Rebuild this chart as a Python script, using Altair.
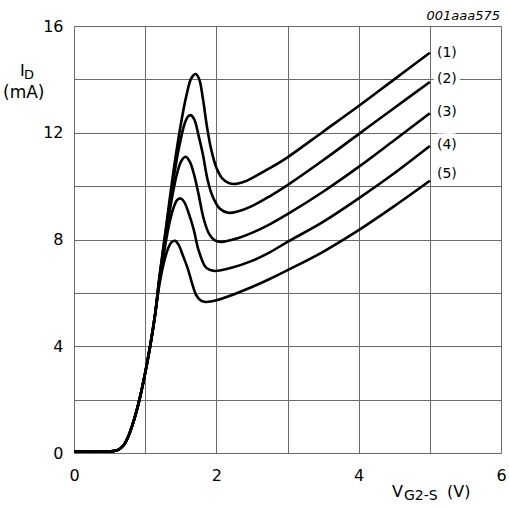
import altair as alt
import pandas as pd

# shared rising part (all curves coincide)
base_x = [0.0, 0.3, 0.55, 0.62, 0.7, 0.76, 0.85, 0.92, 1.0, 1.07, 1.14]
base_y = [0.05, 0.05, 0.07, 0.12, 0.3, 0.6, 1.3, 2.0, 3.0, 4.0, 5.2]

c1_x = [1.2, 1.3, 1.4, 1.5, 1.58, 1.65, 1.71, 1.76, 1.81, 1.87, 1.93, 2.0, 2.08, 2.17, 2.26, 2.4, 2.5, 2.75, 3.0, 3.5, 4.0, 4.5, 5.0]
c1_y = [6.6, 8.6, 10.6, 12.3, 13.4, 14.05, 14.2, 14.0, 13.3, 12.2, 11.35, 10.7, 10.3, 10.12, 10.08, 10.17, 10.3, 10.67, 11.08, 12.04, 13.0, 14.0, 15.0]

c2_x = [1.2, 1.3, 1.4, 1.48, 1.55, 1.6, 1.64, 1.69, 1.75, 1.81, 1.88, 1.95, 2.05, 2.17, 2.3, 2.5, 2.75, 3.0, 3.5, 4.0, 4.5, 5.0]
c2_y = [6.55, 8.5, 10.3, 11.5, 12.3, 12.6, 12.66, 12.5, 11.9, 11.2, 10.2, 9.6, 9.15, 9.0, 9.05, 9.25, 9.62, 10.04, 10.97, 11.95, 12.93, 13.9]

c3_x = [1.2, 1.3, 1.38, 1.45, 1.51, 1.57, 1.63, 1.69, 1.75, 1.82, 1.9, 1.98, 2.07, 2.3, 2.5, 2.75, 3.0, 3.5, 4.0, 4.5, 5.0]
c3_y = [6.5, 8.3, 9.6, 10.5, 10.95, 11.1, 10.9, 10.4, 9.7, 8.8, 8.2, 7.97, 7.91, 8.05, 8.25, 8.57, 8.95, 9.79, 10.72, 11.72, 12.73]

c4_x = [1.2, 1.27, 1.34, 1.4, 1.45, 1.5, 1.55, 1.61, 1.68, 1.75, 1.84, 1.9, 1.98, 2.2, 2.5, 2.75, 3.0, 3.5, 4.0, 4.5, 5.0]
c4_y = [6.45, 7.6, 8.6, 9.2, 9.48, 9.54, 9.4, 9.0, 8.4, 7.6, 7.0, 6.87, 6.82, 6.93, 7.2, 7.52, 7.91, 8.66, 9.54, 10.48, 11.5]

c5_x = [1.2, 1.26, 1.32, 1.37, 1.42, 1.47, 1.53, 1.6, 1.66, 1.72, 1.79, 1.85, 2.0, 2.25, 2.5, 2.75, 3.0, 3.5, 4.0, 4.5, 5.0]
c5_y = [6.3, 7.1, 7.65, 7.9, 7.95, 7.8, 7.4, 6.9, 6.35, 5.9, 5.7, 5.66, 5.72, 5.95, 6.22, 6.52, 6.85, 7.54, 8.35, 9.25, 10.2]

curve_names = ["(1)", "(2)", "(3)", "(4)", "(5)"]
label_x = [5.1, 5.1, 5.1, 5.1, 5.1]
label_y = [15.0, 14.0, 12.78, 11.53, 10.45]

x_grid = [0, 1, 2, 3, 4, 5, 6]
y_grid = [0, 2, 4, 6, 8, 10, 12, 14, 16]

rows = []
for name, xs, ys in zip(curve_names, [c1_x, c2_x, c3_x, c4_x, c5_x], [c1_y, c2_y, c3_y, c4_y, c5_y]):
    for xv, yv in zip(base_x + xs, base_y + ys):
        rows.append({"curve": name, "v": xv, "i": yv})
df = pd.DataFrame(rows)
lab = pd.DataFrame({"curve": curve_names, "v": label_x, "i": label_y})

FONT = "DejaVu Sans"
GRID = "#6a6a6a"

xscale = alt.Scale(domain=[0, 6], nice=False)
yscale = alt.Scale(domain=[0, 16], nice=False)

xaxis = alt.Axis(values=x_grid, grid=True, gridColor=GRID, gridWidth=1, gridOpacity=1,
                 ticks=False, domain=False, title=None, format="d", labelFlush=False,
                 labelExpr="datum.value % 2 == 0 ? datum.label : ''",
                 labelFont=FONT, labelFontSize=16, labelColor="black", labelPadding=14)
yaxis = alt.Axis(values=y_grid, grid=True, gridColor=GRID, gridWidth=1, gridOpacity=1,
                 ticks=False, domain=False, title=None, format="d", labelFlush=False,
                 labelExpr="datum.value % 4 == 0 ? datum.label : ''",
                 labelFont=FONT, labelFontSize=16, labelColor="black", labelPadding=11)

lines = alt.Chart(df).mark_line(color="black", strokeWidth=2.6, interpolate="catmull-rom").encode(
    x=alt.X("v:Q", scale=xscale, axis=xaxis),
    y=alt.Y("i:Q", scale=yscale, axis=yaxis),
    detail="curve:N",
    order="v:Q",
)

halo = alt.Chart(lab).mark_text(align="left", baseline="middle", font=FONT, fontSize=14,
                                 stroke="white", strokeWidth=9, color="white").encode(
    x=alt.X("v:Q", scale=xscale), y=alt.Y("i:Q", scale=yscale), text="curve:N")
labels = alt.Chart(lab).mark_text(align="left", baseline="middle", font=FONT, fontSize=14,
                                   color="black").encode(
    x=alt.X("v:Q", scale=xscale), y=alt.Y("i:Q", scale=yscale), text="curve:N")

def txt(t, x, y, size=15, align="left", style="normal"):
    return alt.Chart(pd.DataFrame({"t": [t]})).mark_text(
        align=align, baseline="alphabetic", font=FONT, fontSize=size, fontStyle=style, color="black"
    ).encode(x=alt.value(x), y=alt.value(y), text="t:N")

annots = (
    txt("I", -54, 50, 16)
    + txt("D", -50, 53, 13)
    + txt("(mA)", -71, 72, 17)
    + txt("V", 318, 471, 16)
    + txt("G2-S", 330, 474, 14)
    + txt("(V)", 373, 471, 16)
    + txt("001aaa575", 426, -6, 13, align="right", style="italic")
)

chart = (lines + halo + labels + annots).properties(
    width=427, height=427,
    autosize=alt.AutoSizeParams(type="none"),
    padding={"left": 74, "top": 26, "right": 8, "bottom": 54},
).configure_view(stroke=GRID, strokeWidth=1).configure(background="white")

chart.save("out.html", embed_options={"renderer": "svg", "actions": False})
